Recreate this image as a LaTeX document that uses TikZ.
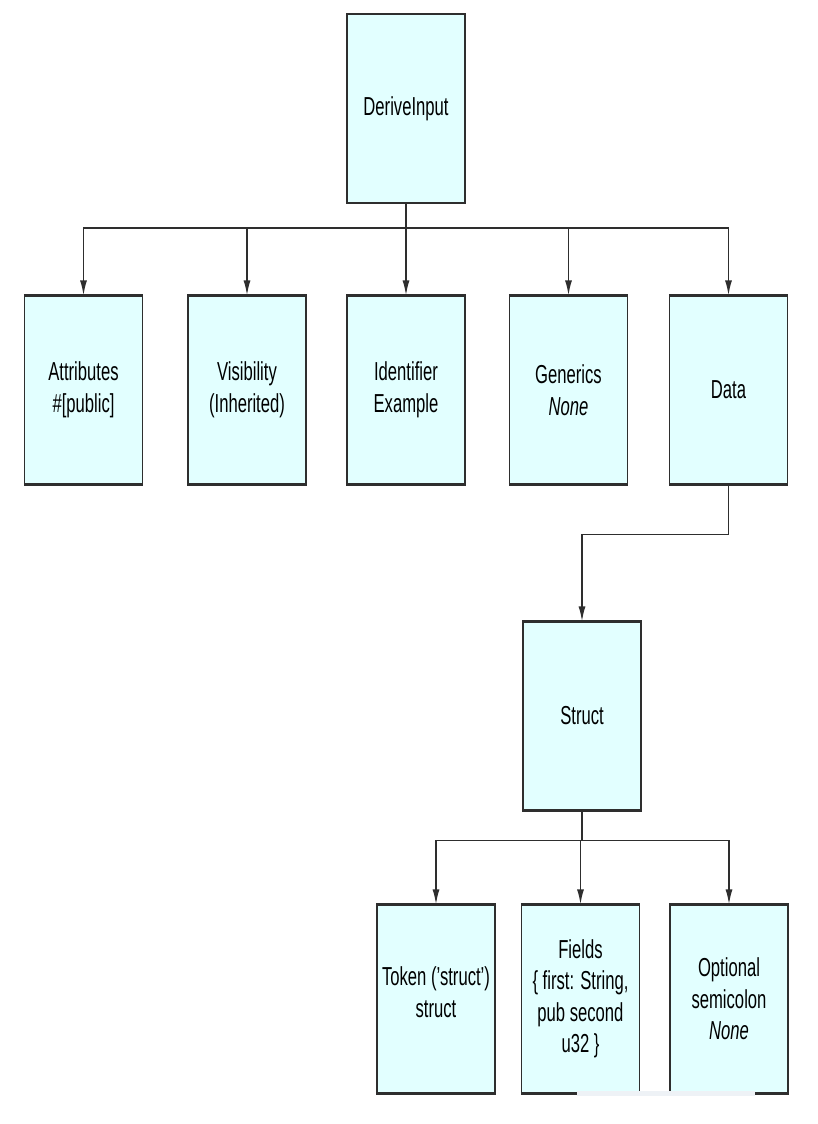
\documentclass[tikz,border=0pt]{standalone}
\usepackage{fontspec}
\setmainfont{Liberation Sans}[FakeStretch=0.64]
\usetikzlibrary{arrows.meta}
\definecolor{boxfill}{HTML}{E2FFFF}
\definecolor{edge}{HTML}{2E2E2E}
\definecolor{strip}{HTML}{EEF2F6}
\begin{document}
\begin{tikzpicture}[x=1pt,y=-1pt,
  box/.style={draw=edge, line width=1.2pt, fill=boxfill, minimum width=118pt, minimum height=188pt,
    inner sep=0pt, align=center, font=\fontsize{26}{31.5}\selectfont},
  conn/.style={draw=edge, line width=1.5pt},
  rim/.style={draw=edge, line width=2.4pt},
  arr/.style={conn, -{Latex[length=15pt,width=7pt]}}]
\useasboundingbox (0,0) rectangle (818,1124);
\node[box] (top) at (406,108.5) {DeriveInput};
\node[box] (attr) at (83.5,390) {Attributes\\\#[public]};
\node[box] (vis) at (247,390) {Visibility\\(Inherited)};
\node[box] (ident) at (406,390) {Identifier\\Example};
\node[box] (gen) at (568.5,390) {Generics\\\textit{None}};
\node[box] (data) at (728.5,390) {Data};
\node[box] (struct) at (582,716) {Struct};
\node[box] (token) at (436,999) {Token (’struct’)\\struct\\[-18pt]};
\node[box] (fields) at (580.5,999) {Fields\\\{ first: String,\\pub second\\u32 \}};
\node[box] (opt) at (729,999) {Optional\\semicolon\\\textit{None}};
\foreach \n in {top,attr,vis,ident,gen,data,struct,token,fields,opt} {
  \draw[rim] (\n.north west) -- (\n.north east);
  \draw[rim] (\n.south west) -- (\n.south east);
}
\foreach \n in {attr,vis,ident,gen,data}
  \draw[arr] (top.south) -- ++(0,25) -| (\n.north);
\draw[arr] (data.south) -- ++(0,50) -| (struct.north);
\foreach \n in {token,fields,opt}
  \draw[arr] (struct.south) -- ++(0,30) -| (\n.north);
\fill[strip] (577,1090.5) rectangle (755,1096);
\end{tikzpicture}
\end{document}
